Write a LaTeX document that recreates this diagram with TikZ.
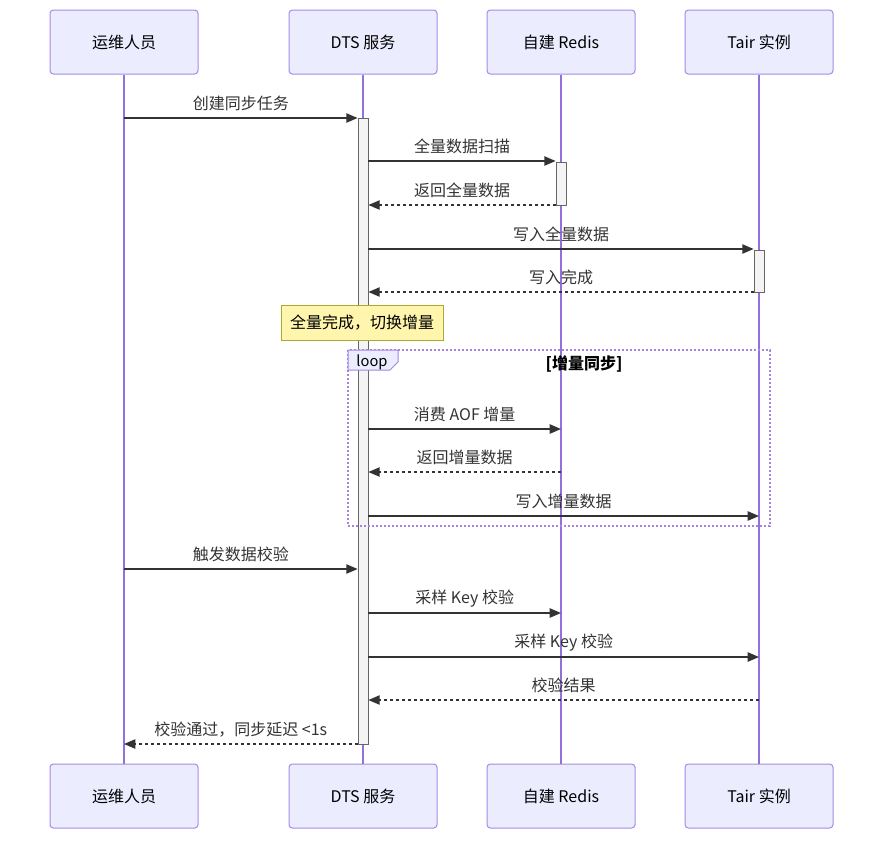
\documentclass[tikz,border=0pt]{standalone}
\usepackage{fontspec}
\setmainfont{Noto Sans CJK SC}
\usetikzlibrary{arrows.meta, calc}
\definecolor{actFill}{HTML}{ECECFF}
\definecolor{actEdge}{HTML}{A58CE8}
\definecolor{lifeCol}{HTML}{9370DB}
\definecolor{msgCol}{HTML}{333333}
\definecolor{barFill}{HTML}{F4F4F4}
\definecolor{barEdge}{HTML}{666666}
\definecolor{noteFill}{HTML}{FFF5AD}
\definecolor{noteEdge}{HTML}{AAAA33}
\tikzset{
  actorbox/.style={draw=actEdge, fill=actFill, rounded corners=2.5pt, line width=0.75pt,
    minimum width=111pt, minimum height=48pt, inner sep=0pt, font=\fontsize{12}{14}\selectfont},
  lifeline/.style={draw=lifeCol, line width=1.1pt},
  actbar/.style={draw=barEdge, fill=barFill, line width=0.6pt, minimum width=7.5pt, inner sep=0pt, anchor=north},
  msg/.style={draw=msgCol, line width=1.1pt, -{Triangle[length=8.5pt,width=7pt]}},
  reply/.style={msg, dash pattern=on 2.25pt off 2.25pt},
  msglabel/.style={midway, yshift=11pt, text=msgCol, font=\fontsize{12}{14}\selectfont},
  notebox/.style={draw=noteEdge, fill=noteFill, line width=0.75pt, minimum width=121.5pt,
    minimum height=26.25pt, inner sep=0pt, font=\fontsize{12}{14}\selectfont},
  loopframe/.style={draw=lifeCol!85, line width=1.3pt, dash pattern=on 1.5pt off 1.5pt},
  looptab/.style={draw=lifeCol!85, fill=actFill, line width=0.75pt}
}
\begin{document}
\begin{tikzpicture}[x=0.75pt, y=-0.75pt]
\useasboundingbox (0,0) rectangle (891,847);
% participants, top and bottom
\path (124,42) node[actorbox] (opsTop) {运维人员}
      (363,42) node[actorbox] (dtsTop) {DTS 服务}
      (561,42) node[actorbox] (redisTop) {自建 Redis}
      (759,42) node[actorbox] (tairTop) {Tair 实例};
\path (124,796) node[actorbox] (opsBot) {运维人员}
      (363,796) node[actorbox] (dtsBot) {DTS 服务}
      (561,796) node[actorbox] (redisBot) {自建 Redis}
      (759,796) node[actorbox] (tairBot) {Tair 实例};
% lifelines
\draw[lifeline] (opsTop.south) -- (opsBot.north);
\draw[lifeline] (dtsTop.south) -- (dtsBot.north);
\draw[lifeline] (redisTop.south) -- (redisBot.north);
\draw[lifeline] (tairTop.south) -- (tairBot.north);
% activations
\node[actbar, minimum height=469.5pt] (dtsAct) at (363,118) {};
\node[actbar, minimum height=32.25pt] (redisAct) at (561,162) {};
\node[actbar, minimum height=31.5pt] (tairAct) at (759,250) {};
% full sync
\draw[msg] (opsTop |- 0,118) -- node[msglabel] {创建同步任务} (dtsAct.west |- 0,118);
\draw[msg] (dtsAct.east |- 0,161) -- node[msglabel] {全量数据扫描} (redisAct.west |- 0,161);
\draw[reply] (redisAct.west |- 0,205) -- node[msglabel] {返回全量数据} (dtsAct.east |- 0,205);
\draw[msg] (dtsAct.east |- 0,249) -- node[msglabel] {写入全量数据} (tairAct.west |- 0,249);
\draw[reply] (tairAct.west |- 0,292) -- node[msglabel] {写入完成} (dtsAct.east |- 0,292);
\node[notebox] (switchNote) at (362,322.5) {全量完成，切换增量};
% incremental loop
\draw[loopframe] (348,350) rectangle (770,526);
\draw[looptab] (348,350) -- (398,350) -- (398,362) -- (390,370) -- (348,370) -- cycle;
\node[font=\fontsize{11}{13}\selectfont, text=black] (loopTag) at (372,362) {loop};
\node[font=\fontsize{12}{14}\selectfont\bfseries, text=black] (loopCond) at (584,364) {[增量同步]};
\draw[msg] (dtsAct.east |- 0,429) -- node[msglabel] {消费 AOF 增量} (redisTop |- 0,429);
\draw[reply] (redisTop |- 0,472) -- node[msglabel] {返回增量数据} (dtsAct.east |- 0,472);
\draw[msg] (dtsAct.east |- 0,516) -- node[msglabel] {写入增量数据} (tairTop |- 0,516);
% verification
\draw[msg] (opsTop |- 0,569) -- node[msglabel] {触发数据校验} (dtsAct.west |- 0,569);
\draw[msg] (dtsAct.east |- 0,613) -- node[msglabel] {采样 Key 校验} (redisTop |- 0,613);
\draw[msg] (dtsAct.east |- 0,657) -- node[msglabel] {采样 Key 校验} (tairTop |- 0,657);
\draw[reply] (tairTop |- 0,700) -- node[msglabel] {校验结果} (dtsAct.east |- 0,700);
\draw[reply] (dtsAct.west |- 0,744) -- node[msglabel] {校验通过，同步延迟 <1s} (opsTop |- 0,744);
\end{tikzpicture}
\end{document}
